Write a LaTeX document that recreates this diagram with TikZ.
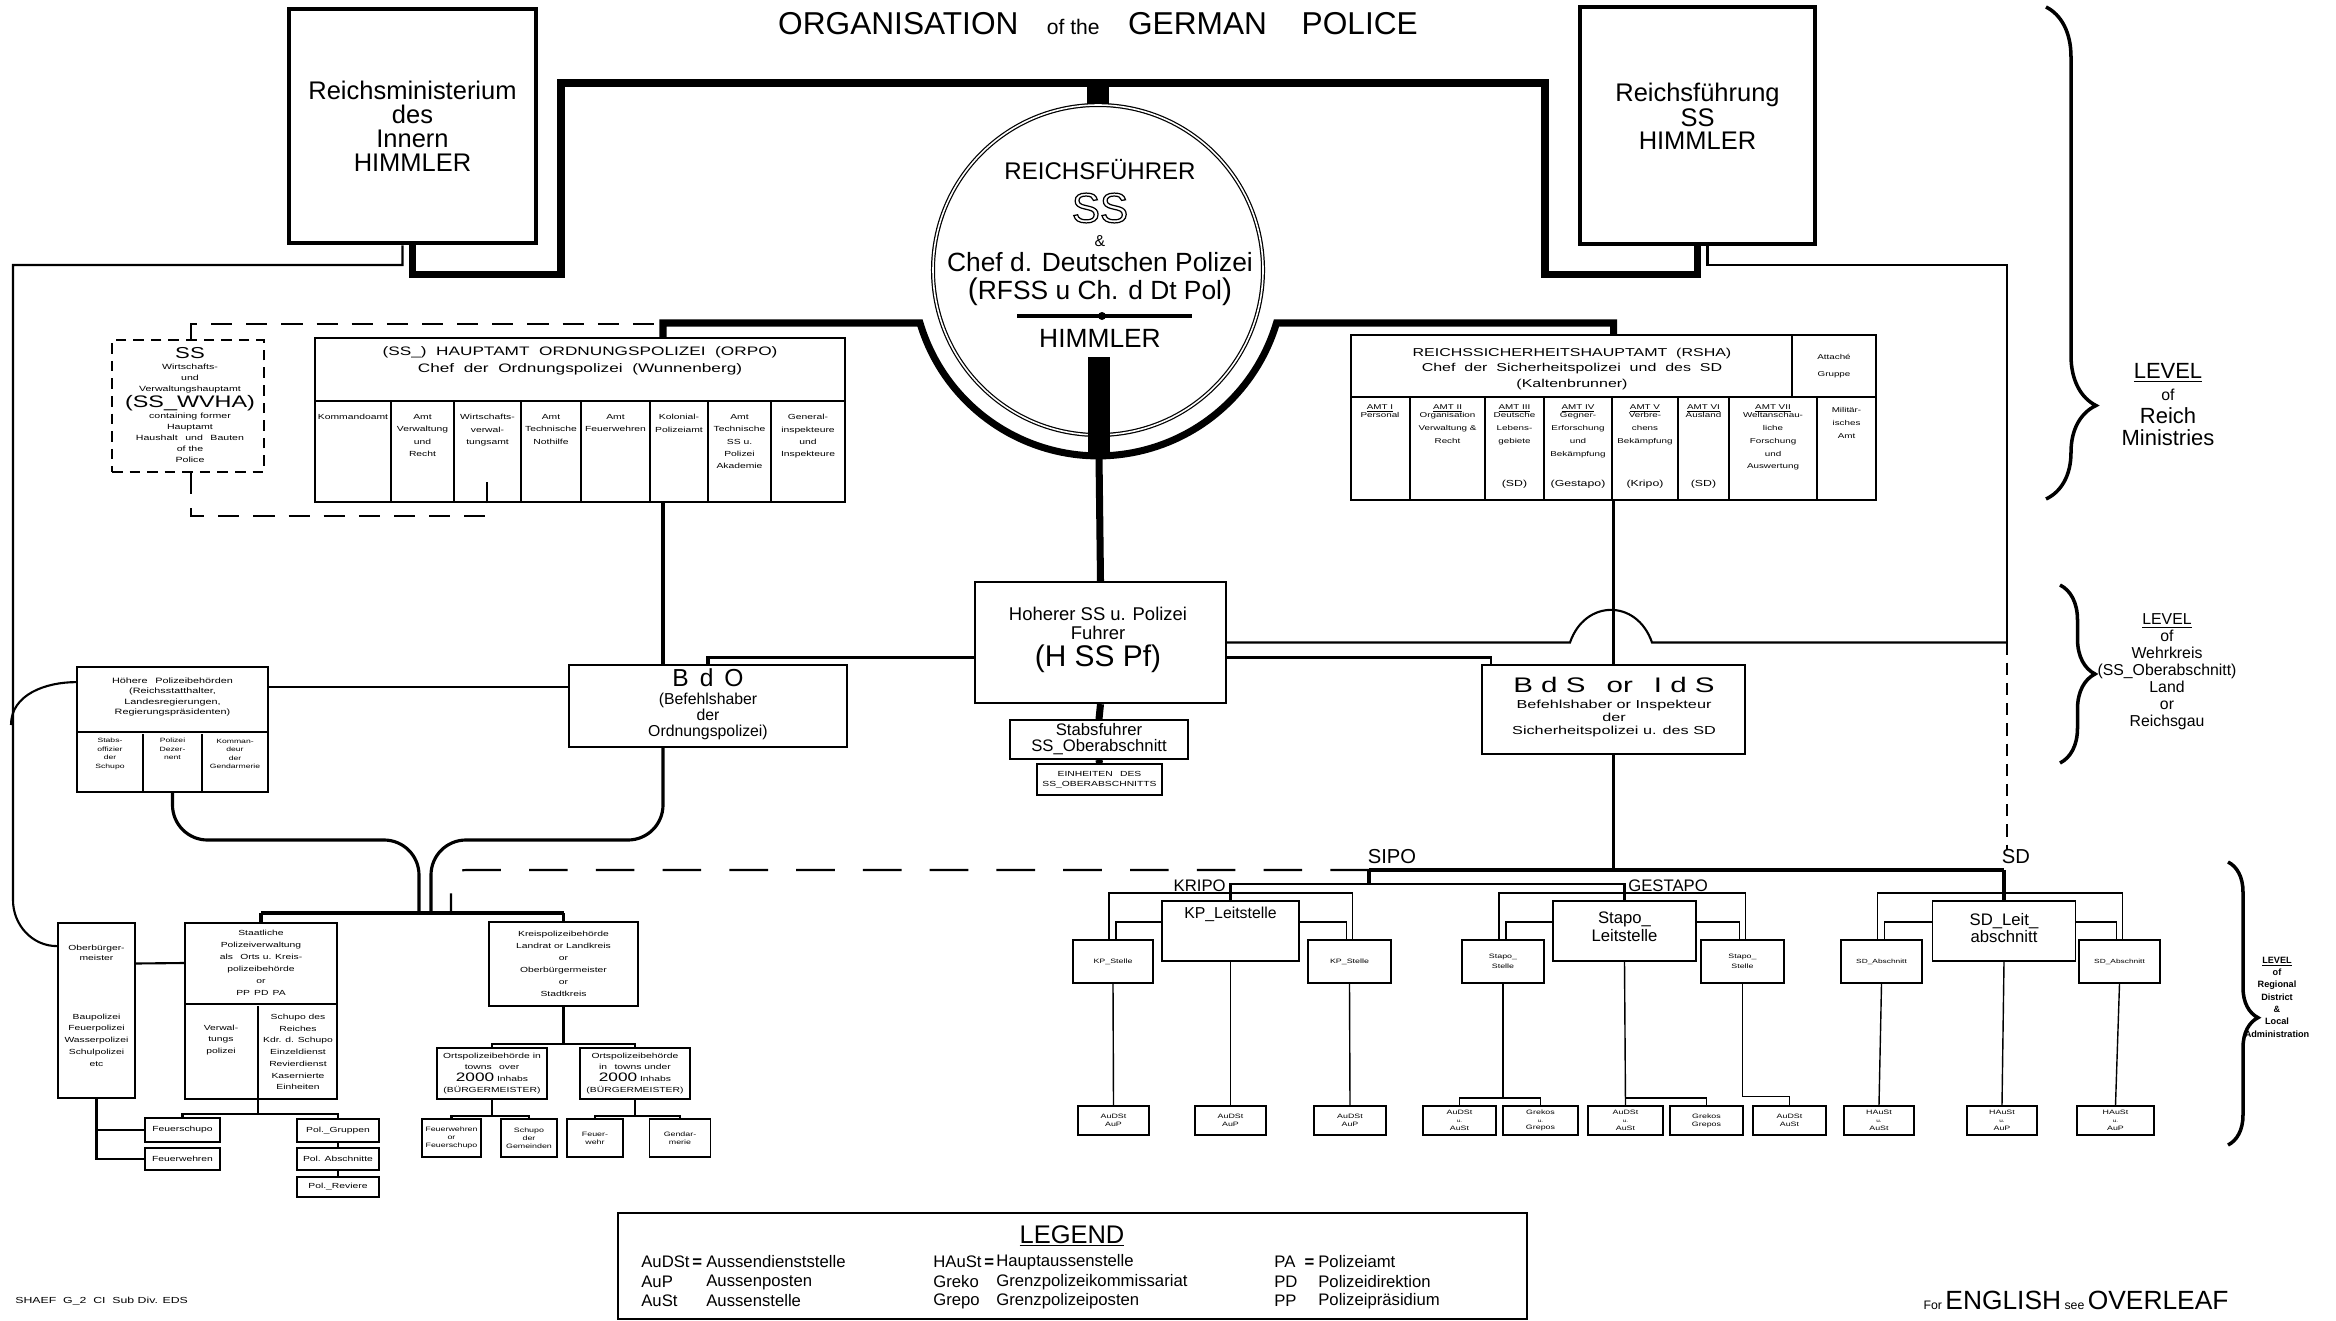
\documentclass[tikz,border=0pt]{standalone}
\usepackage{fontspec}
\setmainfont{Liberation Sans}
\newfontfamily\widefont[FakeStretch=1.4]{Liberation Sans}
\usetikzlibrary{calc,decorations.pathreplacing}
\newcommand\fsz[2]{\fontsize{#1}{#2}\selectfont}
\newcommand\wfs[2]{\widefont\fontsize{#1}{#2}\selectfont}
\newcommand\smallu{{\wfs{2.6}{2.6}u.}}

\begin{document}
\begin{tikzpicture}[x=0.2mm,y=-0.2mm]
  \useasboundingbox (0,0) rectangle (2336,1321);
  \tikzstyle{BoxStyle}=[draw,line width=1pt,inner sep=0pt,align=center]
  \tikzstyle{BigBoxStyle}=[draw,line width=2.8pt,inner sep=0pt,align=center]
  \tikzstyle{LabelStyle}=[inner sep=0pt,align=center]
  \tikzstyle{CellStyle}=[inner sep=0pt,align=center,anchor=north,font=\wfs{4.2}{7}]
  \tikzstyle{AuStyle}=[draw,line width=0.9pt,inner sep=0pt,align=center,minimum height=5.8mm,font=\wfs{3.6}{4.4}]
  \tikzstyle{LegendStyle}=[inner sep=0pt,anchor=west,font=\fsz{9.5}{9.5}]
  \tikzstyle{RuleStyle}=[line width=1pt]
  \tikzstyle{EdgeStyle}=[line width=1.2pt]
  \tikzstyle{TreeEdgeStyle}=[line width=0.8pt]
  \tikzstyle{MidEdgeStyle}=[line width=1.8pt]
  \tikzstyle{ThickEdgeStyle}=[line width=4pt]
  \tikzstyle{DashStyle}=[line width=1.2pt,dash pattern=on 12pt off 8pt]
  \tikzstyle{BraceStyle}=[line width=2pt,decorate]

  \node[LabelStyle,font=\fsz{18}{20}] (title) at (1098,24)
    {ORGANISATION\hspace{0.9em}{\fsz{12}{12}of the}\hspace{0.9em}GERMAN\hspace{1.1em}POLICE};

  \node[BigBoxStyle,minimum width=49.4mm,minimum height=46.8mm,font=\fsz{14.5}{13.7}] (rmi) at (412.5,126)
    {Reichsministerium\\des\\Innern\\HIMMLER};
  \node[BigBoxStyle,minimum width=47mm,minimum height=47.4mm] (rfs) at (1697.5,125.5) {};
  \node[LabelStyle,font=\fsz{14.5}{13}] (rfslbl) at (1697.5,116) {Reichsführung\\SS\\HIMMLER};

  \node[circle,draw,double,line width=0.7pt,double distance=0.9pt,minimum size=66mm,inner sep=0pt] (rfss) at (1098,270) {};
  \node[LabelStyle,font=\fsz{13.7}{14}] (rfsst1) at (1100,170) {REICHSFÜHRER};
  \node[LabelStyle,font=\fsz{24}{24}] (rfsst2) at (1100,208)
    {\special{pdf:literal direct 1 Tr 0.7 w}SS\special{pdf:literal direct 0 Tr}};
  \node[LabelStyle,font=\fsz{9}{9}] (rfsst3) at (1100,241) {\&};
  \node[LabelStyle,font=\fsz{15}{15}] (rfsst4) at (1100,262) {Chef d. Deutschen Polizei};
  \node[LabelStyle,font=\fsz{15}{15}] (rfsst5) at (1100,292)
    {{\fsz{17}{17}(}RFSS u Ch. d Dt Pol{\fsz{17}{17})}};
  \node[LabelStyle,font=\fsz{15}{15}] (rfsst6) at (1100,338) {HIMMLER};
  \draw[line width=1.8pt] (1017,316) -- (1192,316);
  \fill (1102,316) circle[radius=4];

  \node[BoxStyle,dash pattern=on 6pt off 4pt,minimum width=30.4mm,minimum height=26.4mm] (wvha) at (188,406) {};
  \node[LabelStyle,font=\wfs{4.3}{6.3}] (wvhalbl) at (190,405)
    {{\fsz{9}{9}SS}\\Wirtschafts-\\und\\Verwaltungshauptamt\\{\fsz{9.5}{9.5}(SS\_WVHA)}\\containing former\\Hauptamt\\Haushalt\quad und\quad Bauten\\of the\\Police};

  \node[BoxStyle,minimum width=106mm,minimum height=32.8mm] (orpo) at (580,420) {};
  \node[LabelStyle,font=\wfs{7}{10}] (orpolbl) at (580,361)
    {(SS\_)\ \ HAUPTAMT\ \ ORDNUNGSPOLIZEI\ \ (ORPO)\\Chef\ \ der\ \ Ordnungspolizei\ \ (Wunnenberg)};
  \draw[RuleStyle] ($(orpo.north west)+(0,64)$) -- ($(orpo.north east)+(0,64)$);
  \foreach \x in {391,454,521,581,650,708,771}
    \draw[RuleStyle] (\x,402) -- (\x,502);
  \foreach \x/\t [count=\i] in {353/Kommandoamt, 422.5/{Amt\\Verwaltung\\und\\Recht},
      487.5/{Wirtschafts-\\verwal-\\tungsamt}, 551/{Amt\\Technische\\Nothilfe},
      615.5/{Amt\\Feuerwehren}, 679/{Kolonial-\\Polizeiamt},
      739.5/{Amt\\Technische\\SS u.\\Polizei\\Akademie}, 808/{General-\\inspekteure\\und\\Inspekteure}}
    \node[CellStyle] (orpoc\i) at (\x,414) {\t};

  \node[BoxStyle,minimum width=105mm,minimum height=33mm] (rsha) at (1613.5,417.5) {};
  \node[LabelStyle,font=\wfs{6.5}{9}] (rshalbl) at (1572,369)
    {REICHSSICHERHEITSHAUPTAMT\ \ (RSHA)\\Chef\ \ der\ \ Sicherheitspolizei\ \ und\ \ des\ \ SD\\(Kaltenbrunner)};
  \node[LabelStyle,font=\wfs{4}{10}] (rshaatt) at (1834,366) {Attaché\\Gruppe};
  \draw[RuleStyle] ($(rsha.north west)+(0,63)$) -- ($(rsha.north east)+(0,63)$);
  \draw[RuleStyle] (1792,335) -- (1792,398);
  \foreach \x in {1410,1485,1544,1612,1678,1729,1817}
    \draw[RuleStyle] (\x,398) -- (\x,500);
  \foreach \x/\t [count=\i] in {1380/{\underline{AMT I}\\[-2.5pt]Personal},
      1447.5/{\underline{AMT II}\\[-2.5pt]Organisation\\Verwaltung \&\\Recht},
      1514.5/{\underline{AMT III}\\[-2.5pt]Deutsche\\Lebens-\\gebiete},
      1578/{\underline{AMT IV}\\[-2.5pt]Gegner-\\Erforschung\\und\\Bekämpfung},
      1645/{\underline{AMT V}\\[-2.5pt]Verbre-\\chens\\Bekämpfung},
      1703.5/{\underline{AMT VI}\\[-2.5pt]Ausland},
      1773/{\underline{AMT VII}\\[-2.5pt]Weltanschau-\\liche\\Forschung\\und\\Auswertung},
      1846.5/{\mbox{}\\[-2.5pt]Militär-\\isches\\Amt}}
    \node[CellStyle,font=\wfs{4}{7.3}] (rshac\i) at (\x,404) {\t};
  \foreach \x/\t [count=\i] in {1514.5/(SD), 1578/(Gestapo), 1645/(Kripo), 1703.5/(SD)}
    \node[LabelStyle,font=\wfs{5}{5}] (rshab\i) at (\x,484) {\t};

  \node[BoxStyle,line width=1.3pt,minimum width=50.2mm,minimum height=24.2mm] (hspf) at (1100.5,642.5) {};
  \node[LabelStyle,font=\fsz{10.5}{11}] (hspflbl) at (1098,640)
    {Hoherer SS u. Polizei\\Fuhrer\\[2pt]{\fsz{17}{17}(H SS Pf)}};
  \node[BoxStyle,minimum width=35.6mm,minimum height=7.8mm,font=\fsz{9.5}{9}] (stab) at (1099,739.5)
    {Stabsfuhrer\\SS\_Oberabschnitt};
  \node[BoxStyle,minimum width=25mm,minimum height=6.2mm,font=\wfs{4.2}{6}] (einh) at (1099.5,779.5)
    {EINHEITEN\quad DES\\SS\_OBERABSCHNITTS};

  \node[BoxStyle,minimum width=55.6mm,minimum height=16.4mm] (bdo) at (708,706) {};
  \node[LabelStyle,font=\fsz{9}{9}] (bdolbl) at (708,704)
    {{\fsz{14}{14}B\, d\, O}\\[1.5pt](Befehlshaber\\der\\Ordnungspolizei)};
  \node[BoxStyle,minimum width=52.6mm,minimum height=17.8mm] (bds) at (1613.5,709.5) {};
  \node[LabelStyle,font=\wfs{6.6}{7.3}] (bdslbl) at (1614,707)
    {{\fsz{12}{12}B d S\quad or\quad I d S}\\[2pt]Befehlshaber or Inspekteur\\der\\Sicherheitspolizei u. des SD};

  \node[BoxStyle,minimum width=38.2mm,minimum height=25mm] (hpb) at (172.5,729.5) {};
  \draw[RuleStyle] ($(hpb.north west)+(0,66)$) -- ($(hpb.north east)+(0,66)$);
  \draw[RuleStyle] ($(hpb.south)+(-29.5,0)$) -- ++(0,-59);
  \draw[RuleStyle] ($(hpb.south)+(29.5,0)$) -- ++(0,-59);
  \node[LabelStyle,font=\wfs{4.4}{6}] (hpblbl) at (172.5,697)
    {Höhere\quad Polizeibehörden\\(Reichsstatthalter,\\Landesregierungen,\\Regierungspräsidenten)};
  \node[LabelStyle,font=\wfs{3.5}{4.8}] (hpbc1) at (110,754) {Stabs-\\offizier\\der\\Schupo};
  \node[LabelStyle,font=\wfs{3.5}{4.8}] (hpbc2) at (172.5,749) {Polizei\\Dezer-\\nent};
  \node[LabelStyle,font=\wfs{3.5}{4.8}] (hpbc3) at (235,754) {Komman-\\deur\\der\\Gendarmerie};

  \node[BoxStyle,minimum width=15.4mm,minimum height=35mm] (obm) at (96.5,1010.5) {};
  \node[LabelStyle,font=\wfs{4.2}{5.5}] (obmlbl1) at (96.5,953) {Oberbürger-\\meister};
  \node[LabelStyle,font=\wfs{4.2}{6.7}] (obmlbl2) at (96.5,1040)
    {Baupolizei\\Feuerpolizei\\Wasserpolizei\\Schulpolizei\\etc};
  \node[BoxStyle,minimum width=30.4mm,minimum height=35.2mm] (stp) at (261,1011) {};
  \draw[RuleStyle] ($(stp.north west)+(0,82)$) -- ($(stp.north east)+(0,82)$);
  \draw[RuleStyle] ($(stp.south)+(-3,0)$) -- ++(0,-94);
  \node[LabelStyle,font=\wfs{4.2}{6.8}] (stplbl1) at (261,963)
    {Staatliche\\Polizeiverwaltung\\als\quad Orts u. Kreis-\\polizeibehörde\\or\\PP\, PD\, PA};
  \node[LabelStyle,font=\wfs{4.2}{6.7}] (stplbl2) at (221,1040) {Verwal-\\tungs\\polizei};
  \node[LabelStyle,font=\wfs{4.2}{6.7}] (stplbl3) at (298,1052)
    {Schupo des\\Reiches\\Kdr. d. Schupo\\Einzeldienst\\Revierdienst\\Kasernierte\\Einheiten};
  \node[BoxStyle,minimum width=29.8mm,minimum height=16.8mm,font=\wfs{4.2}{6.8}] (krs) at (563.5,964)
    {Kreispolizeibehörde\\Landrat or Landkreis\\or\\Oberbürgermeister\\or\\Stadtkreis};
  \node[BoxStyle,minimum width=22mm,minimum height=10.2mm,font=\wfs{4.2}{6.5}] (ort1) at (492,1073.5)
    {Ortspolizeibehörde in\\towns\quad over\\{\fsz{7}{7}2000} Inhabs\\(BÜRGERMEISTER)};
  \node[BoxStyle,minimum width=22mm,minimum height=10.2mm,font=\wfs{4.2}{6.5}] (ort2) at (635,1073.5)
    {Ortspolizeibehörde\\in\quad towns under\\{\fsz{7}{7}2000} Inhabs\\(BÜRGERMEISTER)};
  \node[BoxStyle,minimum width=11.8mm,minimum height=7.6mm,font=\wfs{3.6}{4.6}] (fwfs) at (451.5,1138)
    {Feuerwehren\\or\\Feuerschupo};
  \node[BoxStyle,minimum width=11.2mm,minimum height=7.6mm,font=\wfs{3.6}{4.6}] (sdg) at (529,1138)
    {Schupo\\der\\Gemeinden};
  \node[BoxStyle,minimum width=11.2mm,minimum height=7.6mm,font=\wfs{3.6}{4.6}] (fw) at (595,1138)
    {Feuer-\\wehr};
  \node[BoxStyle,minimum width=12.2mm,minimum height=7.6mm,font=\wfs{3.6}{4.6}] (gen) at (680,1138)
    {Gendar-\\merie};
  \node[BoxStyle,minimum width=15mm,minimum height=4.8mm,font=\wfs{4.2}{5}] (fs) at (182.5,1130) {Feuerschupo};
  \node[BoxStyle,minimum width=15mm,minimum height=4.4mm,font=\wfs{4.2}{5}] (fwh) at (182.5,1159) {Feuerwehren};
  \node[BoxStyle,minimum width=16.4mm,minimum height=4.6mm,font=\wfs{4.2}{5}] (pg) at (338,1130.5) {Pol.\_Gruppen};
  \node[BoxStyle,minimum width=16.4mm,minimum height=4.4mm,font=\wfs{4.2}{5}] (pab) at (338,1159) {Pol. Abschnitte};
  \node[BoxStyle,minimum width=16.4mm,minimum height=4mm,font=\wfs{4.2}{5}] (prv) at (338,1187) {Pol.\_Reviere};

  \node[BoxStyle,minimum width=27.4mm,minimum height=12mm] (kpl) at (1230.5,931) {};
  \node[LabelStyle,font=\fsz{9}{9}] (kpllbl) at (1230.5,914) {KP\_Leitstelle};
  \node[BoxStyle,minimum width=16mm,minimum height=8.6mm,font=\wfs{3.6}{5}] (kps1) at (1113,961.5) {KP\_Stelle};
  \node[BoxStyle,minimum width=16.6mm,minimum height=8.6mm,font=\wfs{3.6}{5}] (kps2) at (1349.5,961.5) {KP\_Stelle};
  \node[BoxStyle,minimum width=28.6mm,minimum height=12mm] (stl) at (1624.5,931) {};
  \node[LabelStyle,font=\fsz{9.5}{10}] (stllbl) at (1624.5,927) {Stapo\_\\Leitstelle};
  \node[BoxStyle,minimum width=16.4mm,minimum height=8.6mm,font=\wfs{3.6}{6}] (sts1) at (1503,961.5) {Stapo\_\\Stelle};
  \node[BoxStyle,minimum width=16.6mm,minimum height=8.6mm,font=\wfs{3.6}{6}] (sts2) at (1742.5,961.5) {Stapo\_\\Stelle};
  \node[BoxStyle,minimum width=28.6mm,minimum height=12mm] (sdl) at (2004,931) {};
  \node[LabelStyle,font=\fsz{9.5}{10}] (sdllbl) at (2004,928) {SD\_Leit\_\\abschnitt};
  \node[BoxStyle,minimum width=16.2mm,minimum height=8.6mm,font=\wfs{3.4}{5}] (sda1) at (1881.5,961.5) {SD\_Abschnitt};
  \node[BoxStyle,minimum width=16.2mm,minimum height=8.6mm,font=\wfs{3.4}{5}] (sda2) at (2119.5,961.5) {SD\_Abschnitt};
  \foreach \x/\w/\t [count=\i] in {1113.5/14.2/{AuDSt\\AuP}, 1230.5/14.2/{AuDSt\\AuP},
      1350/14.4/{AuDSt\\AuP}, 1459.5/14.6/{AuDSt\\\smallu\\AuSt}, 1540.5/15/{Grekos\\\smallu\\Grepos},
      1625.5/15/{AuDSt\\\smallu\\AuSt}, 1706.5/14.6/{Grekos\\Grepos}, 1789.5/14.6/{AuDSt\\AuSt},
      1879/14/{HAuSt\\\smallu\\AuSt}, 2002/14/{HAuSt\\\smallu\\AuP}, 2115.5/15.4/{HAuSt\\\smallu\\AuP}}
    \node[AuStyle,minimum width=\w mm] (au\i) at (\x,1120.5) {\t};

  \node[LabelStyle,font=\fsz{11.5}{11.5}] (sipolbl) at (1392,857) {SIPO};
  \node[LabelStyle,font=\fsz{11.5}{11.5}] (sdlbl) at (2016,857) {SD};
  \node[LabelStyle,font=\fsz{9.5}{9.5},anchor=east] (kripolbl) at (1226,886) {KRIPO};
  \node[LabelStyle,font=\fsz{9.5}{9.5},anchor=west] (gestapolbl) at (1628,886) {GESTAPO};

  \node[BoxStyle,line width=1.3pt,minimum width=181.8mm,minimum height=21.2mm] (legend) at (1072.5,1266) {};
  \node[LabelStyle,font=\fsz{14.5}{14.5}] (legendlbl) at (1072,1236) {\underline{LEGEND}};
  \foreach \x/\y/\t [count=\i] in {641/1262/{AuDSt{\bfseries\,=}}, 706/1262/Aussendienststelle,
      641/1282/AuP, 706/1282/Aussenposten, 641/1301/AuSt, 706/1301/Aussenstelle,
      933/1262/{HAuSt{\bfseries\,=}}, 996/1262/Hauptaussenstelle, 933/1282/Greko,
      996/1282/Grenzpolizeikommissariat, 933/1301/Grepo, 996/1301/Grenzpolizeiposten,
      1274/1262/{PA\ \ {\bfseries =}}, 1318/1262/Polizeiamt, 1274/1282/PD, 1318/1282/Polizeidirektion,
      1274/1301/PP, 1318/1301/Polizeipräsidium}
    \node[LegendStyle] (lg\i) at (\x,\y) {\t};
  \node[LabelStyle,anchor=west,font=\wfs{5}{5}] (shaef) at (15,1301) {SHAEF\ \ G\_2\ \ CI\ \ Sub Div. EDS};
  \node[LabelStyle,font=\fsz{7}{7}] (engl) at (2076,1300)
    {For {\fsz{15}{15}ENGLISH} see {\fsz{15}{15}OVERLEAF}};

  \node[LabelStyle,font=\fsz{12.5}{12.7}] (lvl1) at (2168,404.5)
    {\underline{LEVEL}\\{\fsz{9}{9}of}\\Reich\\Ministries};
  \node[LabelStyle,font=\fsz{9}{9.7}] (lvl2) at (2167,672)
    {\underline{LEVEL}\\of\\Wehrkreis\\(SS\_Oberabschnitt)\\Land\\or\\Reichsgau};
  \node[LabelStyle,font=\bfseries\fsz{5.2}{7}] (lvl3) at (2277,997)
    {\underline{LEVEL}\\of\\Regional\\District\\\&\\Local\\Administration};
  \draw[BraceStyle,decoration={brace,amplitude=10mm,aspect=0.81}] (2046,7) -- (2046,499);
  \draw[BraceStyle,decoration={brace,amplitude=7mm,aspect=0.5}] (2060,585) -- (2060,763);
  \draw[BraceStyle,decoration={brace,amplitude=6mm,aspect=0.55}] (2228,862) -- (2228,1145);

  \coordinate (topL) at (561,83);
  \coordinate (topR) at (1545,83);
  \coordinate (farL) at (13,265);
  \coordinate (farR) at (2007,265);
  \coordinate (farRm) at (2007,642.5);
  \coordinate (farRd) at (2007,850);
  \coordinate (hopA) at (1570,642.5);
  \coordinate (hopB) at (1652,642.5);
  \coordinate (sipo) at (1613.5,870);
  \coordinate (sipoL) at (1369,870);
  \coordinate (sipoR) at (2004,870);
  \coordinate (kripo) at (1369,884);
  \coordinate (barJ1) at (419,913);
  \coordinate (barJ2) at (431,913);
  \coordinate (barD) at (451,913);

  \draw[ThickEdgeStyle] (rmi.south) -- ($(rmi.south)+(0,29)$) -| (topL) -- (topR)
    |- ($(rfs.south)+(0,28)$) -- (rfs.south);
  \draw[line width=12pt] (rfss.north |- topL) -- (rfss.north);
  \draw[ThickEdgeStyle] ($(orpo.north)+(83,0)$) |- ($(rfss.center)+(-178,53)$)
    arc[start angle=163.4,end angle=16.6,radius=186] -| (rsha.north);
  \draw[line width=13pt] ($(rfss.center)+(1,87)$) -- ($(rfss.center)+(1,186)$);
  \draw[ThickEdgeStyle] ($(rfss.center)+(1,186)$) -- (hspf.north);
  \draw[ThickEdgeStyle] (hspf.south) -- (stab.north);
  \draw[ThickEdgeStyle] (stab.south) -- (einh.north);

  \draw[EdgeStyle] ($(rmi.south)+(-10,0)$) |- (farL) -- ($(farL)+(0,635)$)
    to[out=-90,in=180] ($(obm.north west)+(0,24)$);
  \draw[EdgeStyle] ($(hpb.north west)+(0,16)$) to[out=180,in=90] ($(farL)+(-2,460)$);
  \draw[EdgeStyle] ($(rfs.south)+(10,0)$) |- (farR) -- (farRm);
  \draw[DashStyle,dash pattern=on 7pt off 4.5pt] (farRm) -- (farRd);
  \draw[DashStyle] ($(wvha.north)+(3,0)$) |- ($(orpo.north)+(75,-13)$);
  \draw[DashStyle] ($(wvha.south)+(3,0)$) |- ($(orpo.south)+(-93,13)$) -- ($(orpo.south)+(-93,-22)$);

  \draw[MidEdgeStyle] ($(orpo.south)+(83,0)$) -- ($(bdo.north)+(-45,0)$);
  \draw[MidEdgeStyle] (rsha.south) -- (bds.north);
  \draw[MidEdgeStyle] ($(hspf.west)+(0,15)$) -| (bdo.north);
  \draw[EdgeStyle] (hspf.east) -- (hopA) .. controls (1585,599) and (1637,599) .. (hopB) -- (farRm);
  \draw[EdgeStyle] ($(hspf.east)+(0,15)$) -| ($(bds.north west)+(10,0)$);
  \draw[EdgeStyle] ($(hpb.east)+(0,-42.5)$) -- ($(bdo.west)+(0,-19)$);

  \draw[MidEdgeStyle,rounded corners=7mm] (hpb.south) |- ($(barJ1)+(0,-73)$) -- (barJ1);
  \draw[MidEdgeStyle,rounded corners=7mm] ($(bdo.south)+(-45,0)$) |- ($(barJ2)+(0,-73)$) -- (barJ2);
  \draw[DashStyle,dash pattern=on 22pt off 16pt,rounded corners=3mm] (sipoL) -| (barD);
  \draw[line width=2.5pt] (barJ1 -| stp.north) -- (barJ1 -| krs.north);
  \draw[MidEdgeStyle] (barJ1 -| stp.north) -- (stp.north);
  \draw[MidEdgeStyle] (barJ1 -| krs.north) -- (krs.north);

  \draw[EdgeStyle] ($(obm.east)+(0,-47)$) -- ($(stp.west)+(0,-48)$);
  \draw[EdgeStyle] (obm.south) |- (fwh.west);
  \draw[EdgeStyle] (obm.south |- fs.west) -- (fs.west);
  \draw[EdgeStyle] ($(stp.south)+(-3,0)$) -- ($(stp.south)+(-3,14)$) coordinate (stpb);
  \draw[EdgeStyle] (fs.north) |- (stpb) -| (pg.north);
  \draw[EdgeStyle] (pg.south) -- (pab.north);
  \draw[EdgeStyle] (pab.south) -- (prv.north);
  \draw[EdgeStyle] (krs.south) -- ($(krs.south)+(0,37)$) coordinate (krsb);
  \draw[EdgeStyle] (ort1.north) |- (krsb) -| (ort2.north);
  \draw[EdgeStyle] (ort1.south) -- ($(ort1.south)+(0,16)$) coordinate (ort1b);
  \draw[EdgeStyle] (fwfs.north) |- (ort1b) -| (sdg.north);
  \draw[EdgeStyle] (ort2.south) -- ($(ort2.south)+(0,16)$) coordinate (ort2b);
  \draw[EdgeStyle] (fw.north) |- (ort2b) -| (gen.north);

  \draw[MidEdgeStyle] (bds.south) -- (sipo);
  \draw[MidEdgeStyle] (sipoL) -- (sipoR);
  \draw[MidEdgeStyle] (sipoL) -- (kripo);
  \draw[EdgeStyle] (kpl.north) |- (kripo) -| (stl.north);
  \draw[MidEdgeStyle] (sipoR) -- (sdl.north);

  \draw[TreeEdgeStyle] ($(kps1.north)+(-4,0)$) |- ($(kpl.north)+(0,-7)$) -| ($(kps2.north)+(3,0)$);
  \draw[TreeEdgeStyle] ($(kpl.west)+(0,-9)$) -| ($(kps1.north)+(3,0)$);
  \draw[TreeEdgeStyle] ($(kpl.east)+(0,-9)$) -| ($(kps2.north)+(-3,0)$);
  \draw[TreeEdgeStyle] ($(sts1.north)+(-4,0)$) |- ($(stl.north)+(0,-7)$) -| ($(sts2.north)+(3,0)$);
  \draw[TreeEdgeStyle] ($(stl.west)+(0,-9)$) -| ($(sts1.north)+(3,0)$);
  \draw[TreeEdgeStyle] ($(stl.east)+(0,-9)$) -| ($(sts2.north)+(-3,0)$);
  \draw[TreeEdgeStyle] ($(sda1.north)+(-4,0)$) |- ($(sdl.north)+(0,-7)$) -| ($(sda2.north)+(3,0)$);
  \draw[TreeEdgeStyle] ($(sdl.west)+(0,-9)$) -| ($(sda1.north)+(3,0)$);
  \draw[TreeEdgeStyle] ($(sdl.east)+(0,-9)$) -| ($(sda2.north)+(-3,0)$);

  \draw[TreeEdgeStyle] (kps1.south) -- (au1.north);
  \draw[TreeEdgeStyle] (kpl.south) -- (au2.north);
  \draw[TreeEdgeStyle] (kps2.south) -- (au3.north);
  \draw[TreeEdgeStyle] (sts1.south) -- ($(sts1.south)+(0,114)$) coordinate (g1);
  \draw[TreeEdgeStyle] (au4.north) |- (g1) -| (au5.north);
  \draw[TreeEdgeStyle] (stl.south) -- (au6.north);
  \draw[TreeEdgeStyle] ($(stl.south)+(0,136)$) -| (au7.north);
  \draw[TreeEdgeStyle] (sts2.south) |- ($(au8.north)+(0,-9)$) -- (au8.north);
  \draw[TreeEdgeStyle] (sda1.south) -- (au9.north);
  \draw[TreeEdgeStyle] (sdl.south) -- (au10.north);
  \draw[TreeEdgeStyle] (sda2.south) -- (au11.north);
\end{tikzpicture}
\end{document}
